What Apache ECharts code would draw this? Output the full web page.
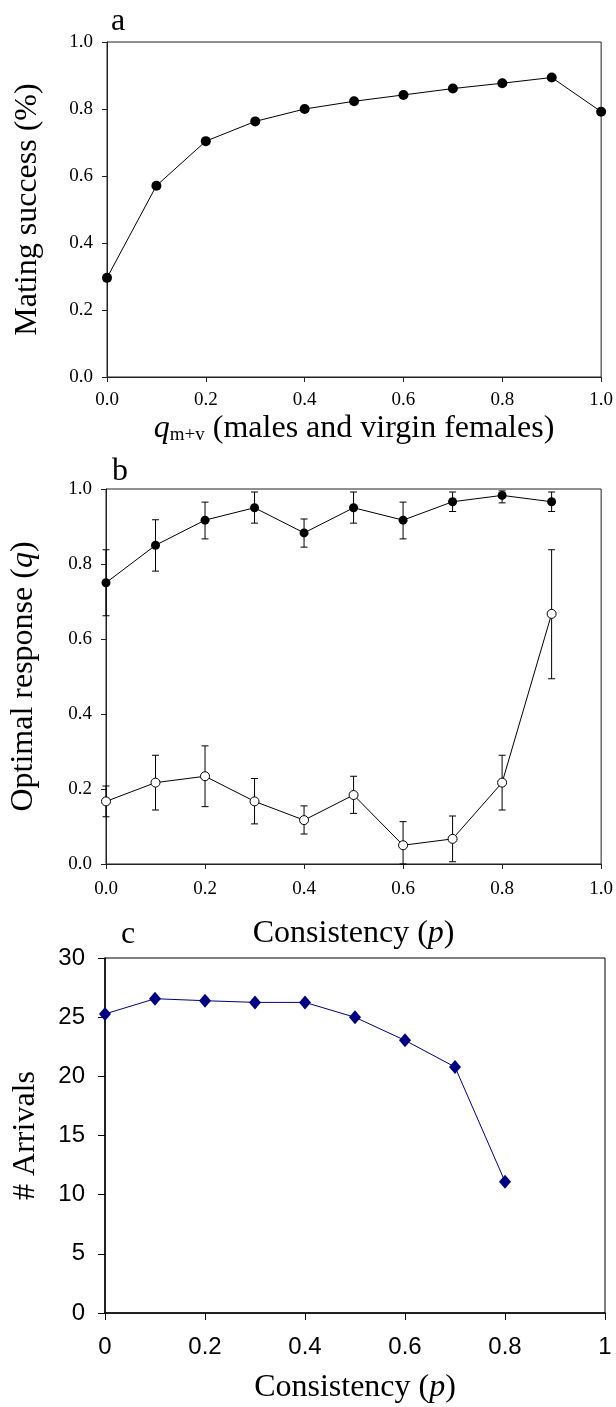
<!DOCTYPE html>
<html>
<head>
<meta charset="utf-8">
<script src="https://cdn.jsdelivr.net/npm/echarts@6/dist/echarts.min.js"></script>
<style>
  html, body { margin: 0; padding: 0; background: #fff; }
  #chart { width: 616px; height: 1407px; }
</style>
</head>
<body>
<div id="chart"></div>
<script>
// ---- Panel a data ----
const aX = [0.0, 0.1, 0.2, 0.3, 0.4, 0.5, 0.6, 0.7, 0.8, 0.9, 1.0];
const aSuccess = [0.296, 0.571, 0.704, 0.763, 0.800, 0.823, 0.842, 0.861, 0.877, 0.894, 0.792];

// ---- Panel b data ----
const bX = [0.0, 0.1, 0.2, 0.3, 0.4, 0.5, 0.6, 0.7, 0.8, 0.9];
const bFilled = [0.750, 0.850, 0.917, 0.950, 0.883, 0.950, 0.917, 0.966, 0.983, 0.966];
const bFilledHi = [0.838, 0.918, 0.965, 0.992, 0.920, 0.992, 0.965, 0.992, 0.995, 0.992];
const bFilledLo = [0.662, 0.781, 0.867, 0.909, 0.845, 0.909, 0.867, 0.940, 0.963, 0.940];
const bOpen = [0.167, 0.217, 0.234, 0.167, 0.117, 0.184, 0.050, 0.067, 0.217, 0.667];
const bOpenHi = [0.208, 0.290, 0.315, 0.228, 0.155, 0.234, 0.113, 0.128, 0.290, 0.838];
const bOpenLo = [0.126, 0.144, 0.153, 0.107, 0.080, 0.135, 0.000, 0.006, 0.144, 0.494];

// ---- Panel c data ----
const cX = [0.0, 0.1, 0.2, 0.3, 0.4, 0.5, 0.6, 0.7, 0.8];
const cArrivals = [25.27, 26.56, 26.39, 26.25, 26.25, 24.99, 23.04, 20.79, 11.10];

// ---- Tick labels ----
const abTicks = [0.0, 0.2, 0.4, 0.6, 0.8, 1.0];
const cYTicks = [0, 5, 10, 15, 20, 25, 30];

const SERIF = "'Liberation Serif', 'Times New Roman', serif";
const SANS = "'Liberation Sans', Arial, sans-serif";
const AX = '#222';

function zip(xs, ys) { return xs.map((x, i) => [x, ys[i]]); }
function errData(xs, lo, hi) { return xs.map((x, i) => [x, lo[i], hi[i]]); }

function errSeries(xi, yi, data) {
  return {
    type: 'custom', xAxisIndex: xi, yAxisIndex: yi, data: data, z: 1,
    renderItem: function (params, api) {
      const x = api.value(0);
      const lo = api.coord([x, api.value(1)]);
      const hi = api.coord([x, api.value(2)]);
      const w = 3.5;
      const st = { stroke: '#000', lineWidth: 1 };
      return {
        type: 'group',
        children: [
          { type: 'line', shape: { x1: lo[0], y1: lo[1], x2: hi[0], y2: hi[1] }, style: st },
          { type: 'line', shape: { x1: lo[0] - w, y1: lo[1], x2: lo[0] + w, y2: lo[1] }, style: st },
          { type: 'line', shape: { x1: hi[0] - w, y1: hi[1], x2: hi[0] + w, y2: hi[1] }, style: st }
        ]
      };
    }
  };
}

function serifX(gi, nameRich, nameGap, labelMargin) {
  return {
    type: 'value', gridIndex: gi, min: 0, max: 1, interval: 0.2,
    axisLine: { lineStyle: { color: AX, width: 1 } },
    axisTick: { length: 5, lineStyle: { color: AX } },
    splitLine: { show: false },
    axisLabel: { fontFamily: SERIF, fontSize: 19, color: '#000', margin: labelMargin,
      formatter: v => abTicks.includes(+v.toFixed(1)) ? v.toFixed(1) : '' },
    name: nameRich, nameLocation: 'middle', nameGap: nameGap,
    nameTextStyle: {
      fontFamily: SERIF, fontSize: 32, color: '#000',
      rich: {
        i: { fontFamily: SERIF, fontSize: 32, fontStyle: 'italic', color: '#000' },
        s: { fontFamily: SERIF, fontSize: 19, color: '#000', verticalAlign: 'bottom', lineHeight: 14 },
        n: { fontFamily: SERIF, fontSize: 32, color: '#000' }
      }
    }
  };
}

function serifY(gi, nameRich, nameGap) {
  return {
    type: 'value', gridIndex: gi, min: 0, max: 1, interval: 0.2,
    axisLine: { show: true, lineStyle: { color: AX, width: 1 } },
    axisTick: { show: true, length: 5, lineStyle: { color: AX } },
    splitLine: { show: false },
    axisLabel: { fontFamily: SERIF, fontSize: 19, color: '#000', margin: 14,
      formatter: v => v.toFixed(1) },
    name: nameRich, nameLocation: 'middle', nameGap: nameGap,
    nameTextStyle: {
      fontFamily: SERIF, fontSize: 32, color: '#000',
      rich: {
        i: { fontFamily: SERIF, fontSize: 32, fontStyle: 'italic', color: '#000' },
        n: { fontFamily: SERIF, fontSize: 32, color: '#000' }
      }
    }
  };
}

const option = {
  animation: false,
  backgroundColor: '#fff',
  title: [
    { text: 'a', left: 106, top: 1, textStyle: { fontFamily: SERIF, fontSize: 32, fontWeight: 'normal', color: '#000' } },
    { text: 'b', left: 107, top: 451, textStyle: { fontFamily: SERIF, fontSize: 32, fontWeight: 'normal', color: '#000' } },
    { text: 'c', left: 116, top: 914, textStyle: { fontFamily: SERIF, fontSize: 32, fontWeight: 'normal', color: '#000' } }
  ],
  grid: [
    { left: 107, top: 42, width: 495, height: 335, show: true, borderColor: AX, borderWidth: 1 },
    { left: 106, top: 489, width: 496, height: 375, show: true, borderColor: AX, borderWidth: 1 },
    { left: 105, top: 958, width: 500, height: 355, show: true, borderColor: '#000', borderWidth: 1 }
  ],
  xAxis: [
    serifX(0, '{i|q}{s|m+v}{n| (males and virgin females)}', 36, 14),
    serifX(1, '{n|Consistency (}{i|p}{n|)}', 54, 16),
    {
      type: 'value', gridIndex: 2, min: 0, max: 1, interval: 0.2,
      axisLine: { lineStyle: { color: '#000', width: 1.5 } },
      axisTick: { length: 7, lineStyle: { color: '#000' } },
      splitLine: { show: false },
      axisLabel: { fontFamily: SANS, fontSize: 24, color: '#000', margin: 22 },
      name: '{n|Consistency (}{i|p}{n|)}', nameLocation: 'middle', nameGap: 59,
      nameTextStyle: {
        fontFamily: SERIF, fontSize: 32, color: '#000',
        rich: {
          i: { fontFamily: SERIF, fontSize: 32, fontStyle: 'italic', color: '#000' },
          n: { fontFamily: SERIF, fontSize: 32, color: '#000' }
        }
      }
    }
  ],
  yAxis: [
    serifY(0, '{n|Mating success (%)}', 63),
    serifY(1, '{n|Optimal response (}{i|q}{n|)}', 66),
    {
      type: 'value', gridIndex: 2, min: 0, max: 30, interval: 5,
      axisLine: { show: true, lineStyle: { color: '#000', width: 1.5 } },
      axisTick: { show: true, length: 7, lineStyle: { color: '#000' } },
      splitLine: { show: false },
      axisLabel: { fontFamily: SANS, fontSize: 24, color: '#000', margin: 20 },
      name: '# Arrivals', nameLocation: 'middle', nameGap: 63,
      nameTextStyle: { fontFamily: SERIF, fontSize: 32, color: '#000' }
    }
  ],
  series: [
    {
      type: 'line', xAxisIndex: 0, yAxisIndex: 0, data: zip(aX, aSuccess),
      symbol: 'circle', symbolSize: 10, showAllSymbol: true,
      lineStyle: { color: '#000', width: 1 }, itemStyle: { color: '#000' }
    },
    errSeries(1, 1, errData(bX, bFilledLo, bFilledHi)),
    errSeries(1, 1, errData(bX, bOpenLo, bOpenHi)),
    {
      type: 'line', xAxisIndex: 1, yAxisIndex: 1, data: zip(bX, bFilled), z: 3,
      symbol: 'circle', symbolSize: 9, showAllSymbol: true,
      lineStyle: { color: '#000', width: 1 }, itemStyle: { color: '#000' }
    },
    {
      type: 'line', xAxisIndex: 1, yAxisIndex: 1, data: zip(bX, bOpen), z: 3,
      symbol: 'circle', symbolSize: 9, showAllSymbol: true,
      lineStyle: { color: '#000', width: 1 },
      itemStyle: { color: '#fff', borderColor: '#000', borderWidth: 1 }
    },
    {
      type: 'line', xAxisIndex: 2, yAxisIndex: 2, data: zip(cX, cArrivals),
      symbol: 'diamond', symbolSize: [12, 14], showAllSymbol: true,
      lineStyle: { color: '#000080', width: 1 }, itemStyle: { color: '#000080' }
    }
  ]
};

const chart = echarts.init(document.getElementById('chart'), null, { renderer: 'canvas' });
chart.setOption(option);
</script>
</body>
</html>
